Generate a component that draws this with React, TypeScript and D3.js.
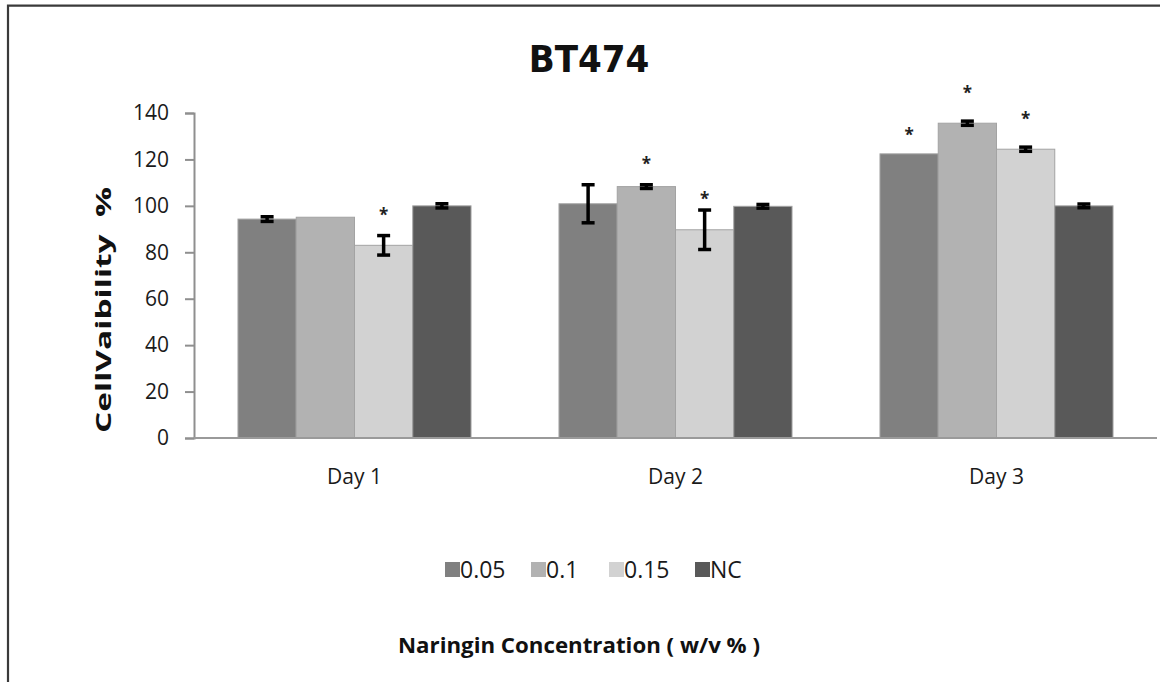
import { useEffect, useRef } from 'react'
import * as d3 from 'd3'

// chart values
const days = ['Day 1', 'Day 2', 'Day 3']
const concentrations = ['0.05', '0.1', '0.15', 'NC']
const conc005 = [94.3, 100.9, 122.4]
const conc01 = [95.1, 108.3, 135.6]
const conc015 = [83.0, 89.7, 124.4]
const concNC = [100, 99.8, 100]
const err005 = [1.0, 8.2, 0]
const err01 = [0, 0.8, 0.9]
const err015 = [4.2, 8.5, 0.9]
const errNC = [0.9, 0.8, 0.8]
const yTicks = [0, 20, 40, 60, 80, 100, 120, 140]
// significance marks (*)
const starDays = ['Day 1', 'Day 2', 'Day 2', 'Day 3', 'Day 3', 'Day 3']
const starSeries = ['0.15', '0.1', '0.15', '0.05', '0.1', '0.15']
const starLevels = [97, 119, 104, 131.6, 149.3, 138.2]

const seriesValues = [conc005, conc01, conc015, concNC]
const seriesErrors = [err005, err01, err015, errNC]
const colors = ['#808080', '#b2b2b2', '#d2d2d2', '#595959']

export default function App() {
    const ref = useRef<SVGSVGElement | null>(null)
    const width = 1160, height = 682
    const margin = { top: 113, left: 194, right: 3, bottom: 244 }
    const font = "'Open Sans', 'DejaVu Sans', sans-serif"

    useEffect(() => {
        const svg = d3.select(ref.current)
        svg.selectAll('*').remove()

        const innerW = width - margin.left - margin.right
        const innerH = height - margin.top - margin.bottom

        // outer frame (left + top only are visible)
        svg.append('path')
            .attr('d', `M8,${height} V5.7 H${width}`)
            .attr('fill', 'none')
            .attr('stroke', '#3a3a3a')
            .attr('stroke-width', 2.2)

        svg.append('text')
            .attr('x', 589)
            .attr('y', 72)
            .attr('text-anchor', 'middle')
            .style('font-family', "'Liberation Sans Narrow', 'DejaVu Sans Condensed', sans-serif")
            .style('font-weight', 'bold')
            .style('font-size', '38px')
            .attr('fill', '#111')
            .text('BT474')

        const g = svg.append('g')
            .attr('transform', `translate(${margin.left}, ${margin.top})`)

        const x0 = d3.scaleBand()
            .domain(days)
            .range([0, innerW])
            .paddingInner(0.274)
            .paddingOuter(0.137)

        const x1 = d3.scaleBand()
            .domain(concentrations)
            .range([0, x0.bandwidth()])

        const y = d3.scaleLinear()
            .domain([0, 140])
            .range([innerH, 0])

        const yAxis = d3.axisLeft(y)
            .tickValues(yTicks)
            .tickSize(9)
            .tickPadding(16)

        const ya = g.append('g')
            .attr('class', 'y-axis')
            .call(yAxis)
        ya.select('.domain').attr('stroke', '#8f8f8f').attr('stroke-width', 2)
        ya.selectAll('.tick line').attr('stroke', '#8f8f8f').attr('stroke-width', 2)
        ya.selectAll('.tick text')
            .style('font-family', font)
            .style('font-size', '21px')
            .style('font-weight', '500')
            .attr('fill', '#1a1a1a')

        const groups = g.selectAll('.day')
            .data(days)
            .join('g')
            .attr('class', 'day')
            .attr('transform', (d) => `translate(${x0(d)}, 0)`)

        groups.selectAll('rect')
            .data((d, i) => concentrations.map((c, k) => ({ c, k, v: seriesValues[k][i] })))
            .join('rect')
            .attr('x', (d) => x1(d.c)!)
            .attr('y', (d) => y(d.v))
            .attr('width', x1.bandwidth())
            .attr('height', (d) => innerH - y(d.v))
            .attr('fill', (d) => colors[d.k])
            .attr('stroke', '#a3a3a3')
            .attr('stroke-width', 1)

        // error bars
        const errData = groups.selectAll('.err')
            .data((d, i) => concentrations
                .map((c, k) => ({ c, v: seriesValues[k][i], e: seriesErrors[k][i] }))
                .filter((d) => d.e > 0))
            .join('g')
            .attr('class', 'err')
            .attr('transform', (d) => `translate(${x1(d.c)! + x1.bandwidth() / 2}, 0)`)

        errData.append('line')
            .attr('x1', 0).attr('x2', 0)
            .attr('y1', (d) => y(d.v + d.e))
            .attr('y2', (d) => y(d.v - d.e))
            .attr('stroke', '#000')
            .attr('stroke-width', 3.5)
        errData.append('line')
            .attr('x1', -6.5).attr('x2', 6.5)
            .attr('y1', (d) => y(d.v + d.e))
            .attr('y2', (d) => y(d.v + d.e))
            .attr('stroke', '#000')
            .attr('stroke-width', 3.5)
        errData.append('line')
            .attr('x1', -6.5).attr('x2', 6.5)
            .attr('y1', (d) => y(d.v - d.e))
            .attr('y2', (d) => y(d.v - d.e))
            .attr('stroke', '#000')
            .attr('stroke-width', 3.5)

        // x axis baseline + labels
        g.append('line')
            .attr('x1', 0).attr('x2', innerW)
            .attr('y1', innerH).attr('y2', innerH)
            .attr('stroke', '#9a9a9a')
            .attr('stroke-width', 2)

        g.selectAll('.x-label')
            .data(days)
            .join('text')
            .attr('class', 'x-label')
            .attr('x', (d) => x0(d)! + x0.bandwidth() / 2)
            .attr('y', innerH + 46)
            .attr('text-anchor', 'middle')
            .style('font-family', font)
            .style('font-size', '21px')
            .attr('fill', '#1a1a1a')
            .text((d) => d)

        // asterisks
        g.selectAll('.star')
            .data(starDays.map((d, i) => ({ d, s: starSeries[i], v: starLevels[i] })))
            .join('text')
            .attr('class', 'star')
            .attr('x', (d) => x0(d.d)! + x1(d.s)! + x1.bandwidth() / 2)
            .attr('y', (d) => y(d.v) + 8)
            .attr('text-anchor', 'middle')
            .style('font-family', font)
            .style('font-weight', 'bold')
            .style('font-size', '17px')
            .attr('fill', '#222')
            .text('*')

        // y axis title
        svg.append('text')
            .attr('transform', 'translate(111, 310) rotate(-90)')
            .attr('text-anchor', 'middle')
            .style('font-family', font)
            .style('font-weight', 'bold')
            .style('font-size', '22px')
            .attr('fill', '#111')
            .attr('xml:space', 'preserve')
            .attr('textLength', 246)
            .attr('lengthAdjust', 'spacingAndGlyphs')
            .text('CellVaibility  %')

        // legend
        const legend = svg.append('g')
            .attr('transform', 'translate(445, 562)')
        const legendX = d3.scalePoint()
            .domain(concentrations)
            .range([0, 250])
        const offsets = [0, 86, 164, 250]
        const items = legend.selectAll('.item')
            .data(concentrations)
            .join('g')
            .attr('class', 'item')
            .attr('transform', (d, i) => `translate(${offsets[i] ?? legendX(d)}, 0)`)
        items.append('rect')
            .attr('width', 15)
            .attr('height', 15)
            .attr('fill', (d, i) => colors[i])
        items.append('text')
            .attr('x', 15)
            .attr('y', 16)
            .style('font-family', font)
            .style('font-size', '23px')
            .attr('fill', '#1a1a1a')
            .text((d) => d)

        svg.append('text')
            .attr('x', 579)
            .attr('y', 653)
            .attr('text-anchor', 'middle')
            .style('font-family', font)
            .style('font-weight', 'bold')
            .style('font-size', '22px')
            .attr('fill', '#111')
            .attr('textLength', 362)
            .attr('lengthAdjust', 'spacingAndGlyphs')
            .text('Naringin Concentration ( w/v % )')
    }, [])

    return (
        <svg
            ref={ref}
            width={width}
            height={height}
            style={{ position: 'absolute', left: 0, top: 0, background: '#fff' }}
        />
    )
}
